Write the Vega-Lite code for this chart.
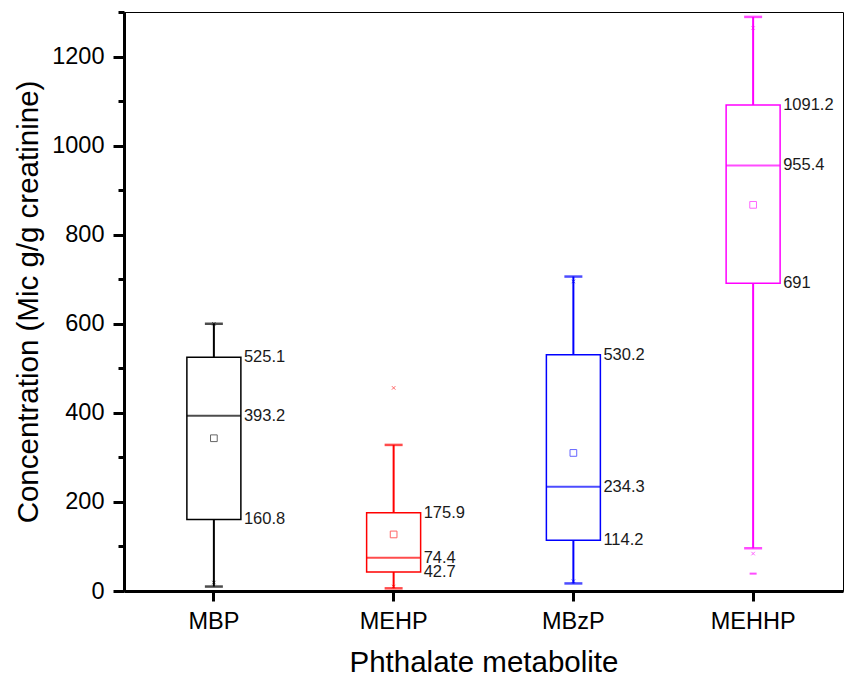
{
  "$schema": "https://vega.github.io/schema/vega-lite/v6.json",
  "autosize": "none",
  "width": 719,
  "height": 579,
  "padding": {"left": 124, "top": 12, "right": 2, "bottom": 87},
  "config": {
    "view": {"stroke": "black", "strokeWidth": 1},
    "font": "Liberation Sans",
    "text": {"font": "Liberation Sans"}
  },
  "datasets": {
    "stats": [
      {"cat": "MBP", "lo": 10, "q1": 160.8, "med": 393.2, "q3": 525.1, "hi": 600, "mean": 343},
      {"cat": "MEHP", "lo": 6, "q1": 42.7, "med": 74.4, "q3": 175.9, "hi": 328, "mean": 127},
      {"cat": "MBzP", "lo": 17, "q1": 114.2, "med": 234.3, "q3": 530.2, "hi": 706, "mean": 310},
      {"cat": "MEHHP", "lo": 96, "q1": 691, "med": 955.4, "q3": 1091.2, "hi": 1289, "mean": 867}
    ],
    "crosses": [
      {"cat": "MBP", "v": 600}, {"cat": "MBP", "v": 19},
      {"cat": "MEHP", "v": 456}, {"cat": "MEHP", "v": 10},
      {"cat": "MBzP", "v": 695}, {"cat": "MBzP", "v": 22},
      {"cat": "MEHHP", "v": 1264}, {"cat": "MEHHP", "v": 84}
    ],
    "dashes": [
      {"cat": "MEHHP", "v": 39}
    ],
    "labels": [
      {"cat": "MBP", "v": 525.1, "t": "525.1"},
      {"cat": "MBP", "v": 393.2, "t": "393.2"},
      {"cat": "MBP", "v": 160.8, "t": "160.8"},
      {"cat": "MEHP", "v": 175.9, "t": "175.9"},
      {"cat": "MEHP", "v": 74.4, "t": "74.4"},
      {"cat": "MEHP", "v": 42.7, "t": "42.7"},
      {"cat": "MBzP", "v": 530.2, "t": "530.2"},
      {"cat": "MBzP", "v": 234.3, "t": "234.3"},
      {"cat": "MBzP", "v": 114.2, "t": "114.2"},
      {"cat": "MEHHP", "v": 1091.2, "t": "1091.2"},
      {"cat": "MEHHP", "v": 955.4, "t": "955.4"},
      {"cat": "MEHHP", "v": 691, "t": "691"}
    ]
  },
  "encoding": {
    "x": {
      "field": "cat", "type": "nominal",
      "sort": ["MBP", "MEHP", "MBzP", "MEHHP"],
      "scale": {"domain": ["MBP", "MEHP", "MBzP", "MEHHP"], "paddingInner": 0, "paddingOuter": 0},
      "axis": {
        "title": "Phthalate metabolite", "titleFontSize": 29.5, "titleFontWeight": "normal", "titleColor": "black",
        "titlePadding": 16, "titleFont": "Liberation Sans",
        "labelAngle": 0, "labelFontSize": 23.5, "labelColor": "black", "labelPadding": 8, "labelFont": "Liberation Sans",
        "tickSize": 10, "tickWidth": 3, "tickColor": "black",
        "domainWidth": 3, "domainColor": "black", "grid": false
      }
    }
  },
  "layer": [
    {
      "data": {"name": "stats"},
      "mark": {"type": "rule", "strokeWidth": 2},
      "encoding": {
        "y": {
          "field": "lo", "type": "quantitative",
          "scale": {"domain": [0, 1300], "nice": false},
          "axis": {
            "orient": "left",
            "values": [0, 200, 400, 600, 800, 1000, 1200],
            "format": "d",
            "title": "Concentration (Mic g/g creatinine)", "titleFontSize": 29.5, "titleFontWeight": "normal",
            "titleColor": "black", "titlePadding": 8, "titleFont": "Liberation Sans",
            "labelFontSize": 23.5, "labelColor": "black", "labelPadding": 9, "labelFont": "Liberation Sans",
            "tickSize": 11, "tickWidth": 3, "tickColor": "black",
            "domainWidth": 3, "domainColor": "black", "grid": false
          }
        },
        "y2": {"field": "hi"},
        "color": {"field": "cat", "type": "nominal", "scale": {"domain": ["MBP", "MEHP", "MBzP", "MEHHP"], "range": ["#000000", "#FF0000", "#0000FF", "#FF00FF"]}, "legend": null}
      }
    },
    {
      "data": {"values": [{"v": 0}]},
      "mark": {"type": "point", "opacity": 0},
      "encoding": {
        "x": {"value": 0},
        "y": {
          "field": "v", "type": "quantitative",
          "axis": {
            "orient": "left",
            "values": [100, 300, 500, 700, 900, 1100, 1300],
            "labels": false, "domain": false, "title": null,
            "tickSize": 6, "tickWidth": 3, "tickColor": "black", "grid": false
          }
        }
      }
    },
    {
      "data": {"name": "stats"},
      "mark": {"type": "tick", "size": 18, "thickness": 2.5, "orient": "horizontal"},
      "encoding": {
        "y": {"field": "lo", "type": "quantitative", "axis": null},
        "color": {"field": "cat", "type": "nominal", "legend": null}
      }
    },
    {
      "data": {"name": "stats"},
      "mark": {"type": "tick", "size": 18, "thickness": 2.5, "orient": "horizontal"},
      "encoding": {
        "y": {"field": "hi", "type": "quantitative", "axis": null},
        "color": {"field": "cat", "type": "nominal", "legend": null}
      }
    },
    {
      "data": {"name": "stats"},
      "mark": {"type": "bar", "size": 54, "fill": "white", "strokeWidth": 1.5},
      "encoding": {
        "y": {"field": "q1", "type": "quantitative", "axis": null},
        "y2": {"field": "q3"},
        "stroke": {"field": "cat", "type": "nominal", "scale": {"domain": ["MBP", "MEHP", "MBzP", "MEHHP"], "range": ["#000000", "#FF0000", "#0000FF", "#FF00FF"]}, "legend": null}
      }
    },
    {
      "data": {"name": "stats"},
      "mark": {"type": "tick", "size": 54, "thickness": 2, "orient": "horizontal"},
      "encoding": {
        "y": {"field": "med", "type": "quantitative", "axis": null},
        "color": {"field": "cat", "type": "nominal", "legend": null}
      }
    },
    {
      "data": {"name": "stats"},
      "mark": {"type": "point", "shape": "square", "filled": false, "size": 45, "strokeWidth": 1, "opacity": 0.6},
      "encoding": {
        "y": {"field": "mean", "type": "quantitative", "axis": null},
        "stroke": {"field": "cat", "type": "nominal", "legend": null}
      }
    },
    {
      "data": {"name": "crosses"},
      "mark": {"type": "point", "shape": "M-0.5,-0.5L0.5,0.5M-0.5,0.5L0.5,-0.5", "filled": false, "size": 49, "strokeWidth": 1, "opacity": 0.6},
      "encoding": {
        "y": {"field": "v", "type": "quantitative", "axis": null},
        "stroke": {"field": "cat", "type": "nominal", "legend": null}
      }
    },
    {
      "data": {"name": "dashes"},
      "mark": {"type": "tick", "size": 7, "thickness": 2, "orient": "horizontal"},
      "encoding": {
        "y": {"field": "v", "type": "quantitative", "axis": null},
        "color": {"field": "cat", "type": "nominal", "legend": null}
      }
    },
    {
      "data": {"name": "labels"},
      "mark": {"type": "text", "align": "left", "baseline": "middle", "dx": 30, "fontSize": 16.5, "color": "#1a1a1a", "font": "Liberation Sans"},
      "encoding": {
        "y": {"field": "v", "type": "quantitative", "axis": null},
        "text": {"field": "t", "type": "nominal"}
      }
    }
  ],
  "resolve": {"axis": {"y": "independent"}}
}
